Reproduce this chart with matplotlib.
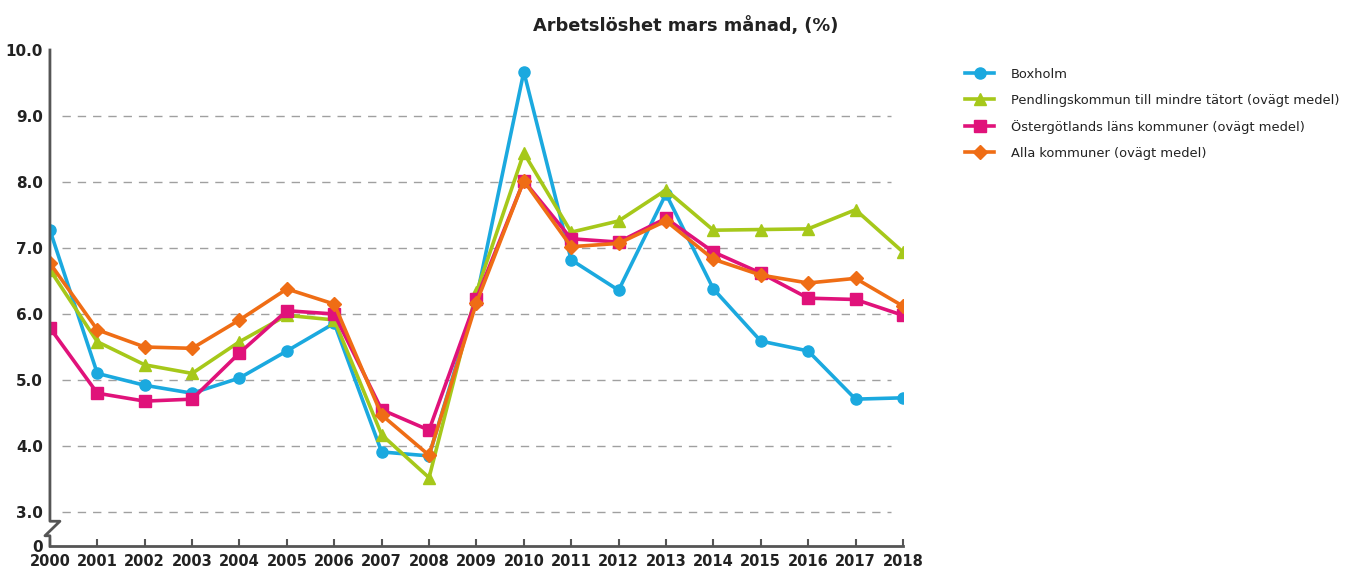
import matplotlib.pyplot as plt
from matplotlib.lines import Line2D
import numpy as np

# data
years = list(range(2000, 2019))
boxholm = [7.27, 5.10, 4.92, 4.80, 5.03, 5.44, 5.86, 3.91, 3.85, 6.24,
           9.67, 6.82, 6.36, 7.82, 6.38, 5.59, 5.44, 4.71, 4.73]
pendling = [6.67, 5.58, 5.23, 5.10, 5.58, 5.98, 5.91, 4.17, 3.52, 6.33,
            8.44, 7.24, 7.41, 7.88, 7.27, 7.28, 7.29, 7.58, 6.94]
ostergotland = [5.79, 4.80, 4.68, 4.71, 5.41, 6.05, 6.00, 4.55, 4.24, 6.23,
                8.02, 7.14, 7.09, 7.45, 6.94, 6.62, 6.24, 6.22, 5.98]
alla = [6.77, 5.76, 5.50, 5.48, 5.91, 6.38, 6.15, 4.47, 3.86, 6.17,
        8.02, 7.02, 7.07, 7.41, 6.83, 6.59, 6.47, 6.54, 6.12]

series = [
    ('Boxholm', boxholm, '#1ba9df', 'o'),
    ('Pendlingskommun till mindre tätort (ovägt medel)', pendling, '#a6c81a', '^'),
    ('Östergötlands läns kommuner (ovägt medel)', ostergotland, '#e0127a', 's'),
    ('Alla kommuner (ovägt medel)', alla, '#ef6d15', 'D'),
]

y_ticks = [3.0, 4.0, 5.0, 6.0, 7.0, 8.0, 9.0, 10.0]
y_bottom = 2.485  # the "0" after the axis break

plt.rcParams['font.family'] = ['DejaVu Sans']

fig = plt.figure(figsize=(13.72, 5.71), dpi=100)
ax = fig.add_axes([0.0364, 0.0438, 0.6217, 0.8686])

# dashed gridlines
for t in y_ticks[:-1]:
    ax.hlines(t, 2000.25, 2017.75, colors='#a0a0a0', linestyles=(0, (6, 5)),
              linewidth=1.0, zorder=1)

for name, vals, col, mk in series:
    ms = 8 if mk != 'D' else 7.5
    ax.plot(years, vals, color=col, marker=mk, markersize=ms, linewidth=2.6,
            label=name, zorder=3)

ax.set_xlim(2000, 2018)
ax.set_ylim(y_bottom, 10.0)
ax.set_xticks(years)
ax.set_xticklabels([str(y) for y in years], fontsize=10.5, fontweight='bold',
                   color='#222222')
ax.set_yticks([y_bottom] + y_ticks)
ax.set_yticklabels(['0'] + [f'{t:.1f}' for t in y_ticks], fontsize=11,
                   fontweight='bold', color='#222222')

ax.tick_params(axis='x', direction='in', length=5, width=1.5, color='#555555', pad=6)
ax.tick_params(axis='y', length=0, pad=5)

for s in ['top', 'right']:
    ax.spines[s].set_visible(False)
ax.spines['bottom'].set_color('#555555')
ax.spines['bottom'].set_linewidth(2)
ax.spines['left'].set_visible(False)

# left axis with break
tr = ax.get_yaxis_transform()
dx = 10 / 853
spine_x = [0, 0, dx, -dx * 0.5, 0, 0]
spine_y = [10.0, 2.86, 2.86, 2.64, 2.64, y_bottom]
ax.add_line(Line2D(spine_x, spine_y, transform=tr, color='#555555',
                   linewidth=2, clip_on=False, zorder=4))

fig.text(0.5, 0.955, 'Arbetslöshet mars månad, (%)', ha='center', va='center',
         fontsize=12.8, fontweight='bold', color='#222222')

leg = fig.legend(loc='upper left', bbox_to_anchor=(0.695, 0.902), frameon=False,
                 fontsize=9.4, handlelength=2.2, labelspacing=1.0,
                 handletextpad=1.3)
for t in leg.get_texts():
    t.set_color('#222222')

fig.savefig('out.png', dpi=100, facecolor='white')
